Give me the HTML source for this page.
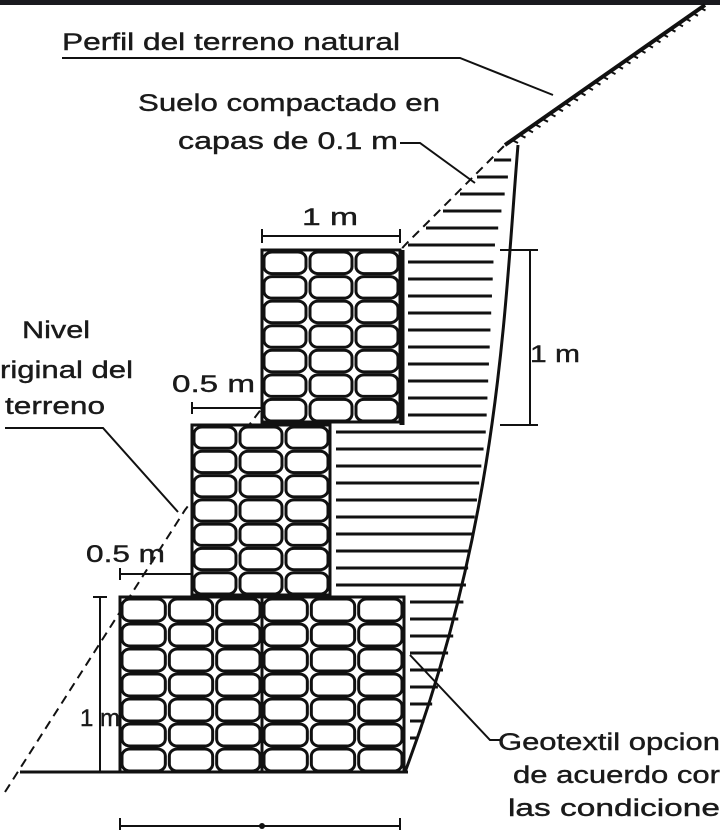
<!DOCTYPE html>
<html><head><meta charset="utf-8"><style>
html,body{margin:0;padding:0;background:#fff;}
svg{display:block}
text{font-family:"Liberation Sans",sans-serif;font-size:24px;fill:#1a1a1a;stroke:#1a1a1a;stroke-width:0.4;}
</style></head><body>
<svg id="s" width="720" height="830" viewBox="0 0 720 830" xmlns="http://www.w3.org/2000/svg">
<rect x="0" y="0" width="720" height="5" fill="#1a1a1f"/>
<g id="hatch" stroke="#111" stroke-width="3"></g>
<path d="M518,145 C505,300 500,520 405,772" fill="none" stroke="#111" stroke-width="3"/>
<line x1="505" y1="145" x2="705" y2="5" stroke="#111" stroke-width="4"/>
<g id="ter" stroke="#111" stroke-width="2"></g>
<polyline points="5,792 185,510 262,408 405,245 505,145" fill="none" stroke="#111" stroke-width="2" stroke-dasharray="9,6"/>
<line x1="20" y1="772" x2="408" y2="772" stroke="#111" stroke-width="3"/>
<g id="boxes"></g>
<g stroke="#111" stroke-width="2" fill="none">
<line x1="262" y1="236" x2="400" y2="236"/><line x1="262" y1="229" x2="262" y2="243"/><line x1="400" y1="229" x2="400" y2="243"/>
<line x1="530" y1="250" x2="530" y2="425"/><line x1="500" y1="250" x2="538" y2="250"/><line x1="500" y1="425" x2="538" y2="425"/>
<line x1="192" y1="408" x2="262" y2="408"/><line x1="192" y1="402" x2="192" y2="414"/>
<line x1="120" y1="574" x2="192" y2="574"/><line x1="120" y1="568" x2="120" y2="580"/>
<line x1="100" y1="597" x2="100" y2="772"/><line x1="93" y1="597" x2="107" y2="597"/>
<line x1="120" y1="826" x2="400" y2="826"/><line x1="120" y1="818" x2="120" y2="832"/><line x1="400" y1="818" x2="400" y2="832"/>
<polyline points="62,58 460,58 553,95"/>
<polyline points="400,143 420,143 475,183"/>
<polyline points="5,428 103,428 178,512"/>
<polyline points="410,655 490,740 500,740"/>
</g>
<circle cx="262" cy="826" r="3" fill="#111"/>
<text x="62" y="50" textLength="338" lengthAdjust="spacingAndGlyphs">Perfil del terreno natural</text>
<text x="138" y="111" textLength="302" lengthAdjust="spacingAndGlyphs">Suelo compactado en</text>
<text x="178" y="149" textLength="220" lengthAdjust="spacingAndGlyphs">capas de 0.1 m</text>
<text x="302" y="225" textLength="56" lengthAdjust="spacingAndGlyphs">1 m</text>
<text x="530" y="362" textLength="50" lengthAdjust="spacingAndGlyphs">1 m</text>
<text x="22" y="338" textLength="68" lengthAdjust="spacingAndGlyphs">Nivel</text>
<text x="0" y="378" textLength="133" lengthAdjust="spacingAndGlyphs">riginal del</text>
<text x="5" y="414" textLength="100" lengthAdjust="spacingAndGlyphs">terreno</text>
<text x="172" y="392" textLength="83" lengthAdjust="spacingAndGlyphs">0.5 m</text>
<text x="86" y="562" textLength="79" lengthAdjust="spacingAndGlyphs">0.5 m</text>
<text x="80" y="726" textLength="40" lengthAdjust="spacingAndGlyphs">1 m</text>
<text x="498" y="750" textLength="222" lengthAdjust="spacingAndGlyphs">Geotextil opcion</text>
<text x="513" y="783" textLength="207" lengthAdjust="spacingAndGlyphs">de acuerdo cor</text>
<text x="508" y="816" textLength="212" lengthAdjust="spacingAndGlyphs">las condicione</text>
</svg>
<script>
var NS="http://www.w3.org/2000/svg";
function el(p,t,a){var e=document.createElementNS(NS,t);for(var k in a)e.setAttribute(k,a[k]);p.appendChild(e);return e;}
var b=document.getElementById('boxes');
function box(x,y,w,h,cols,rows){
  el(b,'rect',{x:x,y:y,width:w,height:h,fill:'#fff',stroke:'#111','stroke-width':3});
  var cw=w/cols,rh=h/rows;
  for(var r=0;r<rows;r++)for(var c=0;c<cols;c++){
    el(b,'rect',{x:x+c*cw+2,y:y+r*rh+2,width:cw-4,height:rh-3,rx:8,ry:7,fill:'#fff',stroke:'#111','stroke-width':3});
  }
}
box(262,250,138,172,3,7);
box(192,425,138,170,3,7);
box(120,597,142,175,3,7);
box(262,597,142,175,3,7);
el(b,'line',{x1:402,y1:250,x2:402,y2:425,stroke:'#111','stroke-width':5});
var h=document.getElementById('hatch');
function rightX(y){
  var pts=[[145,518],[250,498],[430,490],[600,468],[700,438],[772,405]];
  for(var i=0;i<pts.length-1;i++){if(y>=pts[i][0]&&y<=pts[i+1][0]){var t=(y-pts[i][0])/(pts[i+1][0]-pts[i][0]);return pts[i][1]+t*(pts[i+1][1]-pts[i][1]);}}
  return 405;}
function leftX(y){
  if(y<245) return 405+(245-y)*1.0;
  if(y<=425) return 404;
  if(y<=597) return 332;
  return 406;}
for(var y=160;y<770;y+=17){
  var l=leftX(y)+4,r=rightX(y)-4;
  if(r>l) el(h,'line',{x1:l,y1:y,x2:r,y2:y});
}
var t=document.getElementById('ter');
for(var i=0;i<26;i++){var x=512+i*7.5,y=140-i*5.3;el(t,'line',{x1:x,y1:y,x2:x+6,y2:y+3});}
</script>
</body></html>
